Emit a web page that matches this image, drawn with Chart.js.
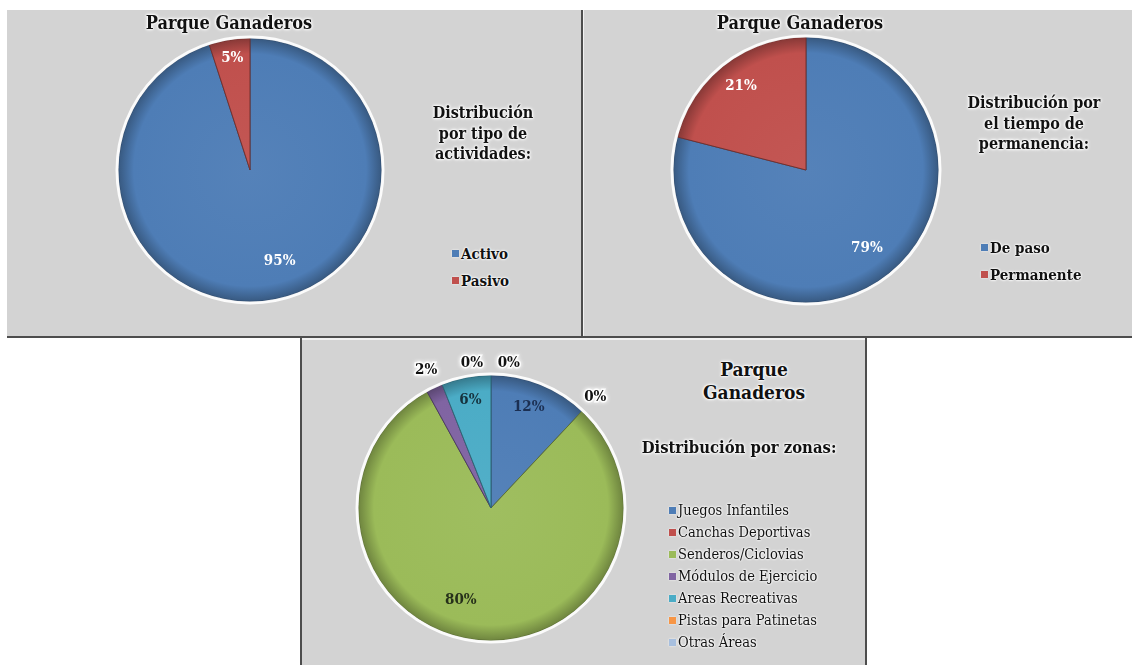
<!DOCTYPE html>
<html lang="es">
<head>
<meta charset="utf-8">
<title>Parque Ganaderos</title>
<script src="https://cdn.jsdelivr.net/npm/chart.js@4.4.1/dist/chart.umd.min.js"></script>
<style>
  html, body { margin: 0; padding: 0; background: #fff; }
  body { width: 1132px; height: 665px; position: relative; overflow: hidden;
         font-family: "DejaVu Serif Condensed", "DejaVu Serif", serif; color: #111; }
  .band { position: absolute; left: 7px; top: 10px; width: 1125px; height: 326px; background: #d3d3d3; }
  .vline { position: absolute; left: 581px; top: 10px; width: 2px; height: 327px; background: #4d4d4d; box-shadow: 1px 0 0 #f2f2f2; }
  .hline { position: absolute; left: 7px; top: 336px; width: 1125px; height: 2px; background: #4d4d4d; }
  .bottom { position: absolute; left: 300px; top: 338px; width: 563px; height: 327px; background: #d3d3d3;
            border-left: 2px solid #4d4d4d; border-right: 2px solid #4d4d4d; box-shadow: inset 0 2px 0 #f2f2f2; }
  canvas { position: absolute; }
  .txt { position: absolute; transform: translate(-50%, -50%); white-space: nowrap; text-align: center; font-weight: bold;
         text-shadow: 0 0 2px #fff, 0 0 2px #fff, 0 0 3px #fff, 0 0 4px #fff; }
  .title { font-size: 18px; line-height: 23px; }
  .sub { font-size: 16px; line-height: 20.5px; }
  .legend { position: absolute; white-space: nowrap; text-shadow: 0 0 2px #fff, 0 0 2px #fff, 0 0 3px #fff; }
  .legend div { display: flex; align-items: center; }
  .legend i { display: inline-block; width: 7px; height: 7px; margin-right: 2px; box-shadow: 0 0 2px #fff; }
  .lg-top { font-size: 15px; font-weight: bold; }
  .lg-top div { height: 27px; }
  .lg-bot { font-size: 14.5px; }
  .lg-bot div { height: 22px; }
</style>
</head>
<body>
<div class="band"></div>
<div class="vline"></div>
<div class="hline"></div>
<div class="bottom"></div>

<canvas id="pieActividad"></canvas>
<canvas id="piePermanencia"></canvas>
<canvas id="pieZonas"></canvas>

<div class="txt title" style="left:229px; top:22px;">Parque Ganaderos</div>
<div class="txt sub" style="left:483px; top:134px;">Distribución<br>por tipo de<br>actividades:</div>
<div class="legend lg-top" id="lgActividad" style="left:452px; top:240px;"></div>

<div class="txt title" style="left:800px; top:22px;">Parque Ganaderos</div>
<div class="txt sub" style="left:1034px; top:124px;">Distribución por<br>el tiempo de<br>permanencia:</div>
<div class="legend lg-top" id="lgPermanencia" style="left:981px; top:234px;"></div>

<div class="txt title" style="left:754px; top:381px; font-size:19px;">Parque<br>Ganaderos</div>
<div class="txt sub" style="left:739px; top:448px; font-size:16.5px;">Distribución por zonas:</div>
<div class="legend lg-bot" id="lgZonas" style="left:669px; top:499px;"></div>

<script>
// ---- datos ----
const actividades = ['Activo', 'Pasivo'];
const actividadesPct = [95, 5];

const permanencia = ['De paso', 'Permanente'];
const permanenciaPct = [79, 21];

const zonas = ['Juegos Infantiles', 'Canchas Deportivas', 'Senderos/Ciclovias', 'Módulos de Ejercicio',
               'Areas Recreativas', 'Pistas para Patinetas', 'Otras Áreas'];
const zonasPct = [12, 0, 80, 2, 6, 0, 0];

// paleta tipo Office 2007
const C = { blue: '#4e7db6', red: '#c0504d', green: '#9bbb59', purple: '#8064a2',
            aqua: '#4bacc6', orange: '#f79646', steel: '#a7bfde' };

function mix(hex, to, t) {
  const a = parseInt(hex.slice(1), 16), b = parseInt(to.slice(1), 16);
  const ch = (v, s) => (v >> s) & 255;
  const m = s => Math.round(ch(a, s) + (ch(b, s) - ch(a, s)) * t);
  return 'rgb(' + m(16) + ',' + m(8) + ',' + m(0) + ')';
}

// relleno con el borde exterior oscurecido (imita el bisel de Excel)
function shade(c, hex) {
  const a = c.chart.chartArea;
  if (!a) return hex;
  const x = (a.left + a.right) / 2, y = (a.top + a.bottom) / 2, r = (a.right - a.left) / 2;
  const g = c.chart.ctx.createRadialGradient(x, y, 0, x, y, r);
  g.addColorStop(0, mix(hex, '#ffffff', 0.04));
  g.addColorStop(0.88, hex);
  g.addColorStop(1, mix(hex, '#000000', 0.3));
  return g;
}

// halo blanco alrededor del pastel
const rim = {
  id: 'rim',
  afterDatasetsDraw(chart) {
    const arc = chart.getDatasetMeta(0).data[0];
    if (!arc) return;
    const p = arc.getProps(['x', 'y', 'outerRadius'], true);
    const ctx = chart.ctx;
    ctx.save();
    ctx.beginPath();
    ctx.arc(p.x, p.y, p.outerRadius + 1.5, 0, Math.PI * 2);
    ctx.lineWidth = 3;
    ctx.strokeStyle = 'rgba(255,255,255,.9)';
    ctx.stroke();
    ctx.restore();
  }
};

// etiquetas de porcentaje (radio relativo y giro en grados por porción)
const pctLabels = {
  id: 'pctLabels',
  afterDatasetsDraw(chart, args, opts) {
    const ctx = chart.ctx;
    const values = chart.data.datasets[0].data;
    chart.getDatasetMeta(0).data.forEach((arc, i) => {
      const p = arc.getProps(['x', 'y', 'startAngle', 'endAngle', 'outerRadius'], true);
      const ang = (p.startAngle + p.endAngle) / 2 + (opts.shift[i] || 0) * Math.PI / 180;
      const d = opts.radius[i] * p.outerRadius;
      const lx = p.x + Math.cos(ang) * d, ly = p.y + Math.sin(ang) * d;
      const txt = values[i] + '%';
      ctx.save();
      ctx.font = 'bold 15px "DejaVu Serif Condensed", "DejaVu Serif", serif';
      ctx.textAlign = 'center';
      ctx.textBaseline = 'middle';
      if (opts.radius[i] > 1) {
        ctx.shadowColor = '#fff';
        ctx.shadowBlur = 4;
        ctx.lineWidth = 3;
        ctx.strokeStyle = 'rgba(255,255,255,.9)';
        ctx.strokeText(txt, lx, ly);
      }
      ctx.fillStyle = opts.color[i];
      ctx.fillText(txt, lx, ly);
      ctx.restore();
    });
  }
};

function makePie(id, geo, labels, values, colors, lbl) {
  const m = 48;
  const cv = document.getElementById(id);
  cv.width = cv.height = 2 * (geo.r + m);
  cv.style.left = (geo.cx - geo.r - m) + 'px';
  cv.style.top = (geo.cy - geo.r - m) + 'px';
  return new Chart(cv, {
    type: 'pie',
    data: {
      labels,
      datasets: [{
        data: values,
        backgroundColor: c => shade(c, colors[c.dataIndex]),
        borderColor: colors.map(c => mix(c, '#000000', 0.4)),
        borderWidth: 1
      }]
    },
    options: {
      responsive: false,
      animation: false,
      layout: { padding: m },
      plugins: { legend: { display: false }, tooltip: { enabled: false }, pctLabels: lbl }
    },
    plugins: [rim, pctLabels]
  });
}

function buildLegend(id, labels, colors) {
  const el = document.getElementById(id);
  labels.forEach((t, i) => {
    const row = document.createElement('div');
    const sq = document.createElement('i');
    sq.style.background = colors[i];
    row.appendChild(sq);
    row.appendChild(document.createTextNode(t));
    el.appendChild(row);
  });
}

const colActividad = [C.blue, C.red];
const colPermanencia = [C.blue, C.red];
const colZonas = [C.blue, C.red, C.green, C.purple, C.aqua, C.orange, C.steel];

makePie('pieActividad', { cx: 250, cy: 170, r: 132 }, actividades, actividadesPct, colActividad,
  { radius: [0.73, 0.86], shift: [-9, 0], color: ['#fff', '#fff'] });

makePie('piePermanencia', { cx: 806, cy: 170, r: 133 }, permanencia, permanenciaPct, colPermanencia,
  { radius: [0.75, 0.8], shift: [0, 0], color: ['#fff', '#fff'] });

makePie('pieZonas', { cx: 491, cy: 508, r: 133 }, zonas, zonasPct, colZonas,
  { radius: [0.81, 1.15, 0.73, 1.15, 0.83, 1.1, 1.1],
    shift: [-1, 0, 11, 0, 0, -7.5, 7],
    color: ['#1b2f52', '#111', '#26301a', '#111', '#16323d', '#111', '#111'] });

buildLegend('lgActividad', actividades, colActividad);
buildLegend('lgPermanencia', permanencia, colPermanencia);
buildLegend('lgZonas', zonas, colZonas);
</script>
</body>
</html>
